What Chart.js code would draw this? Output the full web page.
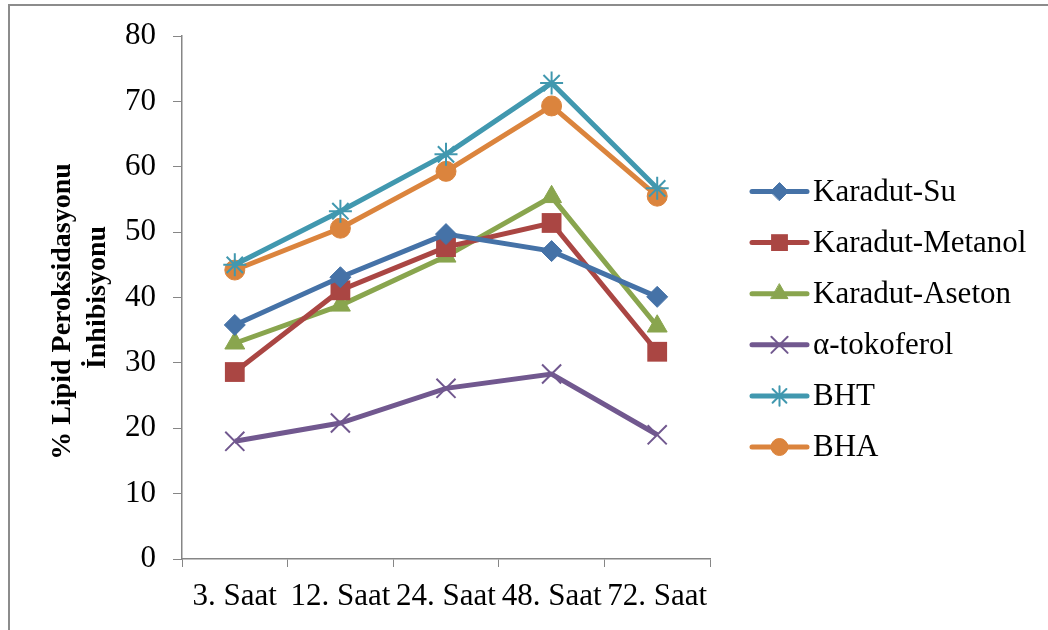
<!DOCTYPE html>
<html>
<head>
<meta charset="utf-8">
<script src="https://cdn.jsdelivr.net/npm/chart.js@4/dist/chart.umd.min.js"></script>
<style>
  html, body { margin: 0; padding: 0; background: #fff; overflow: hidden; }
  #frame { position: absolute; left: 8px; top: 4px; width: 1200px; height: 800px;
           border-left: 2px solid #8c8c8c; border-top: 2px solid #8c8c8c; }
  #wrap { position: absolute; left: 0; top: 0; width: 1048px; height: 630px; }
</style>
</head>
<body>
<div id="frame"></div>
<div id="wrap"><canvas id="lipidChart" width="1048" height="630"></canvas></div>
<script>
// Data
// **************************************
const hours = ['3. Saat', '12. Saat', '24. Saat', '48. Saat', '72. Saat'];
const karadutSu = [35.8, 43.1, 49.7, 47.1, 40.1];
const karadutMetanol = [28.6, 41.1, 47.7, 51.4, 31.7];
const karadutAseton = [33.0, 38.8, 46.3, 55.4, 35.6];
const tokoferol = [18.0, 20.8, 26.1, 28.3, 19.0];
const bht = [45.0, 53.2, 61.9, 72.8, 56.7];
const bha = [44.2, 50.6, 59.3, 69.3, 55.5];
const yTicks = [0, 10, 20, 30, 40, 50, 60, 70, 80];

const serif = '"Liberation Serif", "Times New Roman", serif';
const axisGray = '#868686';

function makeSet(label, data, color, style, radius, bw) {
  return {
    label: label,
    data: data,
    borderColor: color,
    backgroundColor: color,
    borderWidth: 5,
    pointStyle: style,
    pointRadius: radius,
    pointHoverRadius: radius,
    pointBorderWidth: bw,
    pointBackgroundColor: color,
    pointBorderColor: color,
    tension: 0,
  };
}

const datasets = [
  makeSet('Karadut-Su', karadutSu, '#4572A7', 'rectRot', 10.5, 1),
  makeSet('Karadut-Metanol', karadutMetanol, '#AA4643', 'rect', 14, 0),
  makeSet('Karadut-Aseton', karadutAseton, '#89A54E', 'triangle', 11.5, 1),
  makeSet('\u03B1-tokoferol', tokoferol, '#71588F', 'crossRot', 13.5, 2),
  makeSet('BHT', bht, '#4198AF', 'star', 11.5, 2),
  makeSet('BHA', bha, '#DB843D', 'circle', 10, 1),
];

// Legend drawn as line + marker, like the office chart
// **************************************
const sideLegend = {
  id: 'sideLegend',
  afterDraw(chart) {
    const ctx = chart.ctx;
    const x0 = 752, x1 = 807, top = 191.5, step = 51.1;
    chart.data.datasets.forEach((ds, i) => {
      const y = top + i * step;
      ctx.save();
      ctx.strokeStyle = ds.borderColor;
      ctx.lineWidth = 5;
      ctx.lineCap = 'round';
      ctx.beginPath();
      ctx.moveTo(x0, y);
      ctx.lineTo(x1, y);
      ctx.stroke();
      ctx.fillStyle = ds.pointBackgroundColor;
      ctx.strokeStyle = ds.pointBorderColor;
      ctx.lineWidth = ds.pointBorderWidth;
      const r = ds.pointRadius * 0.85;
      Chart.helpers.drawPoint(ctx, { pointStyle: ds.pointStyle, radius: r, rotation: 0, borderWidth: ds.pointBorderWidth }, (x0 + x1) / 2, y);
      ctx.fillStyle = '#000';
      ctx.font = '31px ' + serif;
      ctx.textBaseline = 'middle';
      ctx.textAlign = 'left';
      ctx.fillText(ds.label, 813, y + 1);
      ctx.restore();
    });
  },
};

const config = {
  type: 'line',
  data: { labels: hours, datasets: datasets },
  options: {
    responsive: false,
    animation: false,
    layout: { padding: { left: 0, right: 338, top: 36, bottom: 0 } },
    plugins: {
      legend: { display: false },
      tooltip: { enabled: false },
    },
    scales: {
      x: {
        offset: true,
        grid: { display: true, drawOnChartArea: false, offset: true, tickLength: 8, color: axisGray },
        border: { color: axisGray, width: 1.5 },
        ticks: { color: '#000', font: { family: serif, size: 31 }, padding: 11, maxRotation: 0, autoSkip: false },
        afterFit: (scale) => { scale.height = 71; },
      },
      y: {
        min: 0,
        max: 80,
        afterBuildTicks: (scale) => { scale.ticks = yTicks.map((v) => ({ value: v })); },
        grid: { display: true, drawOnChartArea: false, tickLength: 9, color: axisGray },
        border: { color: axisGray, width: 1.5 },
        ticks: { color: '#000', font: { family: serif, size: 31 }, padding: 17 },
        title: {
          display: true,
          // trailing spaces nudge the first line down, as in the original
          text: ['% Lipid Peroksidasyonu    ', '\u0130nhibisyonu'],
          color: '#000',
          font: { family: serif, size: 28, weight: 'bold', lineHeight: 1.25 },
          padding: { top: 45, bottom: 0 },
        },
        afterFit: (scale) => { scale.width = 182; },
      },
    },
  },
  plugins: [sideLegend],
};

new Chart(document.getElementById('lipidChart'), config);
</script>
</body>
</html>
